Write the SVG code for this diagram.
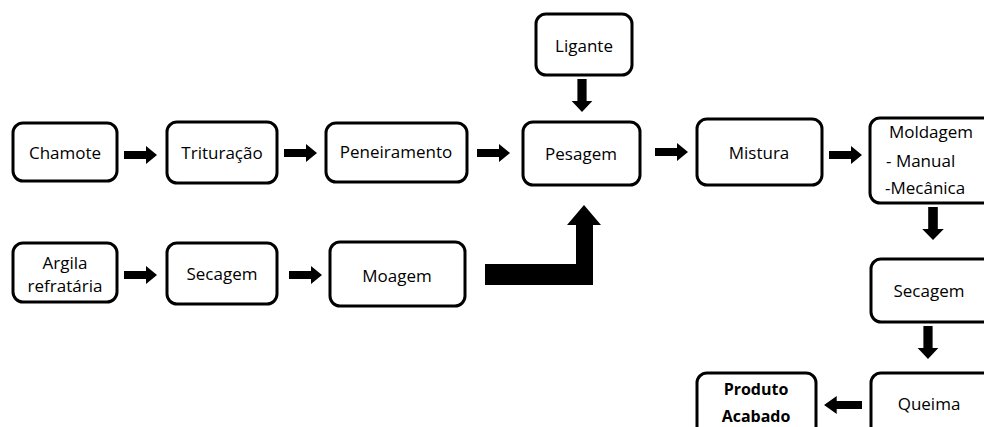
<svg xmlns="http://www.w3.org/2000/svg" width="984" height="427" viewBox="0 0 984 427">
<style>
.box{fill:#fff;stroke:#000;stroke-width:3}
.t{font-family:"Open Sans","Noto Sans",sans-serif;font-size:17px;fill:#000;text-anchor:middle}
.b{font-weight:bold;font-size:16px}
.l{text-anchor:start}
.ar{fill:#000}
</style>
<defs>
<path id="ah" d="M0,-4 L22,-4 L22,-9 L33,0 L22,9 L22,4 L0,4 Z"/>
</defs>
<rect width="984" height="427" fill="#fff"/>
<g id="chamote"><rect class="box" x="13" y="123" width="104" height="58" rx="10"/><text class="t" x="65" y="159">Chamote</text></g>
<g id="trituracao"><rect class="box" x="167" y="122" width="110" height="61" rx="10"/><text class="t" x="222" y="159">Trituração</text></g>
<g id="peneiramento"><rect class="box" x="326" y="123" width="141" height="59" rx="10"/><text class="t" x="396" y="158">Peneiramento</text></g>
<g id="ligante"><rect class="box" x="536" y="14" width="96" height="61" rx="10"/><text class="t" x="584" y="52">Ligante</text></g>
<g id="pesagem"><rect class="box" x="523" y="122" width="117" height="63" rx="10"/><text class="t" x="581" y="160">Pesagem</text></g>
<g id="mistura"><rect class="box" x="697" y="119" width="125" height="66" rx="10"/><text class="t" x="759" y="159">Mistura</text></g>
<g id="moldagem"><rect class="box" x="870" y="118" width="130" height="85" rx="10"/><text class="t" x="931" y="138">Moldagem</text><text class="t l" x="886" y="167">- Manual</text><text class="t l" x="885" y="194">-Mecânica</text></g>
<g id="argila"><rect class="box" x="13" y="243" width="104" height="59" rx="10"/><text class="t" x="65" y="269">Argila</text><text class="t" x="65" y="292">refratária</text></g>
<g id="secagem1"><rect class="box" x="167" y="243" width="110" height="61" rx="10"/><text class="t" x="222" y="280">Secagem</text></g>
<g id="moagem"><rect class="box" x="330" y="242" width="135" height="64" rx="10"/><text class="t" x="397" y="282">Moagem</text></g>
<g id="secagem2"><rect class="box" x="871" y="259" width="130" height="63" rx="10"/><text class="t" x="929" y="297">Secagem</text></g>
<g id="queima"><rect class="box" x="871" y="373" width="130" height="70" rx="10"/><text class="t" x="929" y="410">Queima</text></g>
<g id="produto"><rect class="box" x="697" y="373" width="119" height="70" rx="10"/><text class="t b" x="756" y="395">Produto</text><text class="t b" x="756" y="422">Acabado</text></g>
<g id="connectors" class="ar">
<use href="#ah" transform="translate(124,155)"/>
<use href="#ah" transform="translate(284,153)"/>
<use href="#ah" transform="translate(477,153)"/>
<use href="#ah" transform="translate(655,152)"/>
<use href="#ah" transform="translate(829,155)"/>
<use href="#ah" transform="translate(124,275)"/>
<use href="#ah" transform="translate(289,275)"/>
<use href="#ah" transform="translate(582,79) scale(1.15,1) rotate(90)"/>
<use href="#ah" transform="translate(933,207) scale(1.2,1) rotate(90)"/>
<use href="#ah" transform="translate(928,326) scale(1.15,1) rotate(90)"/>
<use href="#ah" transform="translate(862,405) scale(1.15,1) rotate(180)"/>
<polygon points="485,264 576,264 576,225 567,225 584,205 601,225 593,225 593,285 485,285"/>
</g>
</svg>
